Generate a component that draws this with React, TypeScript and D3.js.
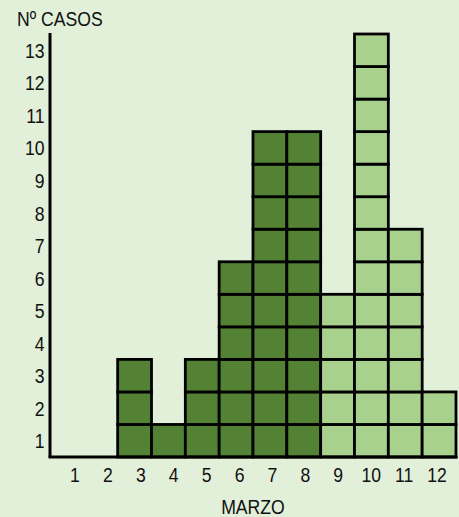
import React from "react";
import * as d3 from "d3";

const days = ["1", "2", "3", "4", "5", "6", "7", "8", "9", "10", "11", "12"];
const cases = [0, 0, 3, 1, 3, 6, 10, 10, 5, 13, 7, 2];
const phase = ["A", "A", "A", "A", "A", "A", "A", "A", "B", "B", "B", "B"];
const yTicks = [1, 2, 3, 4, 5, 6, 7, 8, 9, 10, 11, 12, 13];
const yTitle = "Nº CASOS";
const xTitle = "MARZO";

const W = 459;
const H = 517;
const FONT = "'Liberation Sans', Arial, sans-serif";
const SX = 0.84;

function T(props: { x: number; y: number; anchor?: string; size?: number; children: React.ReactNode }) {
  const { x, y, anchor = "start", size = 21, children } = props;
  return (
    <text
      transform={`translate(${x},${y}) scale(${SX},1)`}
      dy="0.36em"
      textAnchor={anchor}
      fontSize={size}
      fill="#111"
    >
      {children}
    </text>
  );
}

export default function App() {
  const x = d3.scaleBand<string>().domain(days).range([50, 456]).padding(0);
  const y = d3.scaleLinear().domain([0, 13]).range([457, 34]);
  const xl = d3.scalePoint<string>().domain(days).range([75, 437]);
  const color = d3.scaleOrdinal<string, string>().domain(["A", "B"]).range(["#548235", "#a9d18e"]);

  const cells: { key: string; x: number; y: number; w: number; h: number; fill: string }[] = [];
  days.forEach((d, i) => {
    for (let k = 0; k < cases[i]; k++) {
      cells.push({
        key: `${d}-${k}`,
        x: x(d) as number,
        y: y(k + 1),
        w: x.bandwidth(),
        h: y(k) - y(k + 1),
        fill: color(phase[i]),
      });
    }
  });

  return (
    <svg
      width={W}
      height={H}
      style={{ position: "absolute", left: 0, top: 0, display: "block" }}
      fontFamily={FONT}
    >
      <rect x={0} y={0} width={W} height={H} fill="#e2efd9" />
      {cells.map((c) => (
        <rect key={c.key} x={c.x} y={c.y} width={c.w} height={c.h} fill={c.fill} stroke="#000" strokeWidth={2.8} />
      ))}
      <line x1={50} x2={50} y1={y(13) - 1} y2={y(0)} stroke="#000" strokeWidth={3} />
      <line x1={50} x2={456} y1={y(0)} y2={y(0)} stroke="#000" strokeWidth={3} strokeLinecap="square" />
      {yTicks.map((t) => (
        <T key={t} x={44.5} y={y(t - 0.5)} anchor="end">
          {t}
        </T>
      ))}
      {days.map((d) => (
        <T key={d} x={xl(d) as number} y={474} anchor="middle">
          {d}
        </T>
      ))}
      <T x={17} y={18.5}>{yTitle}</T>
      <T x={253} y={506} anchor="middle">{xTitle}</T>
    </svg>
  );
}
